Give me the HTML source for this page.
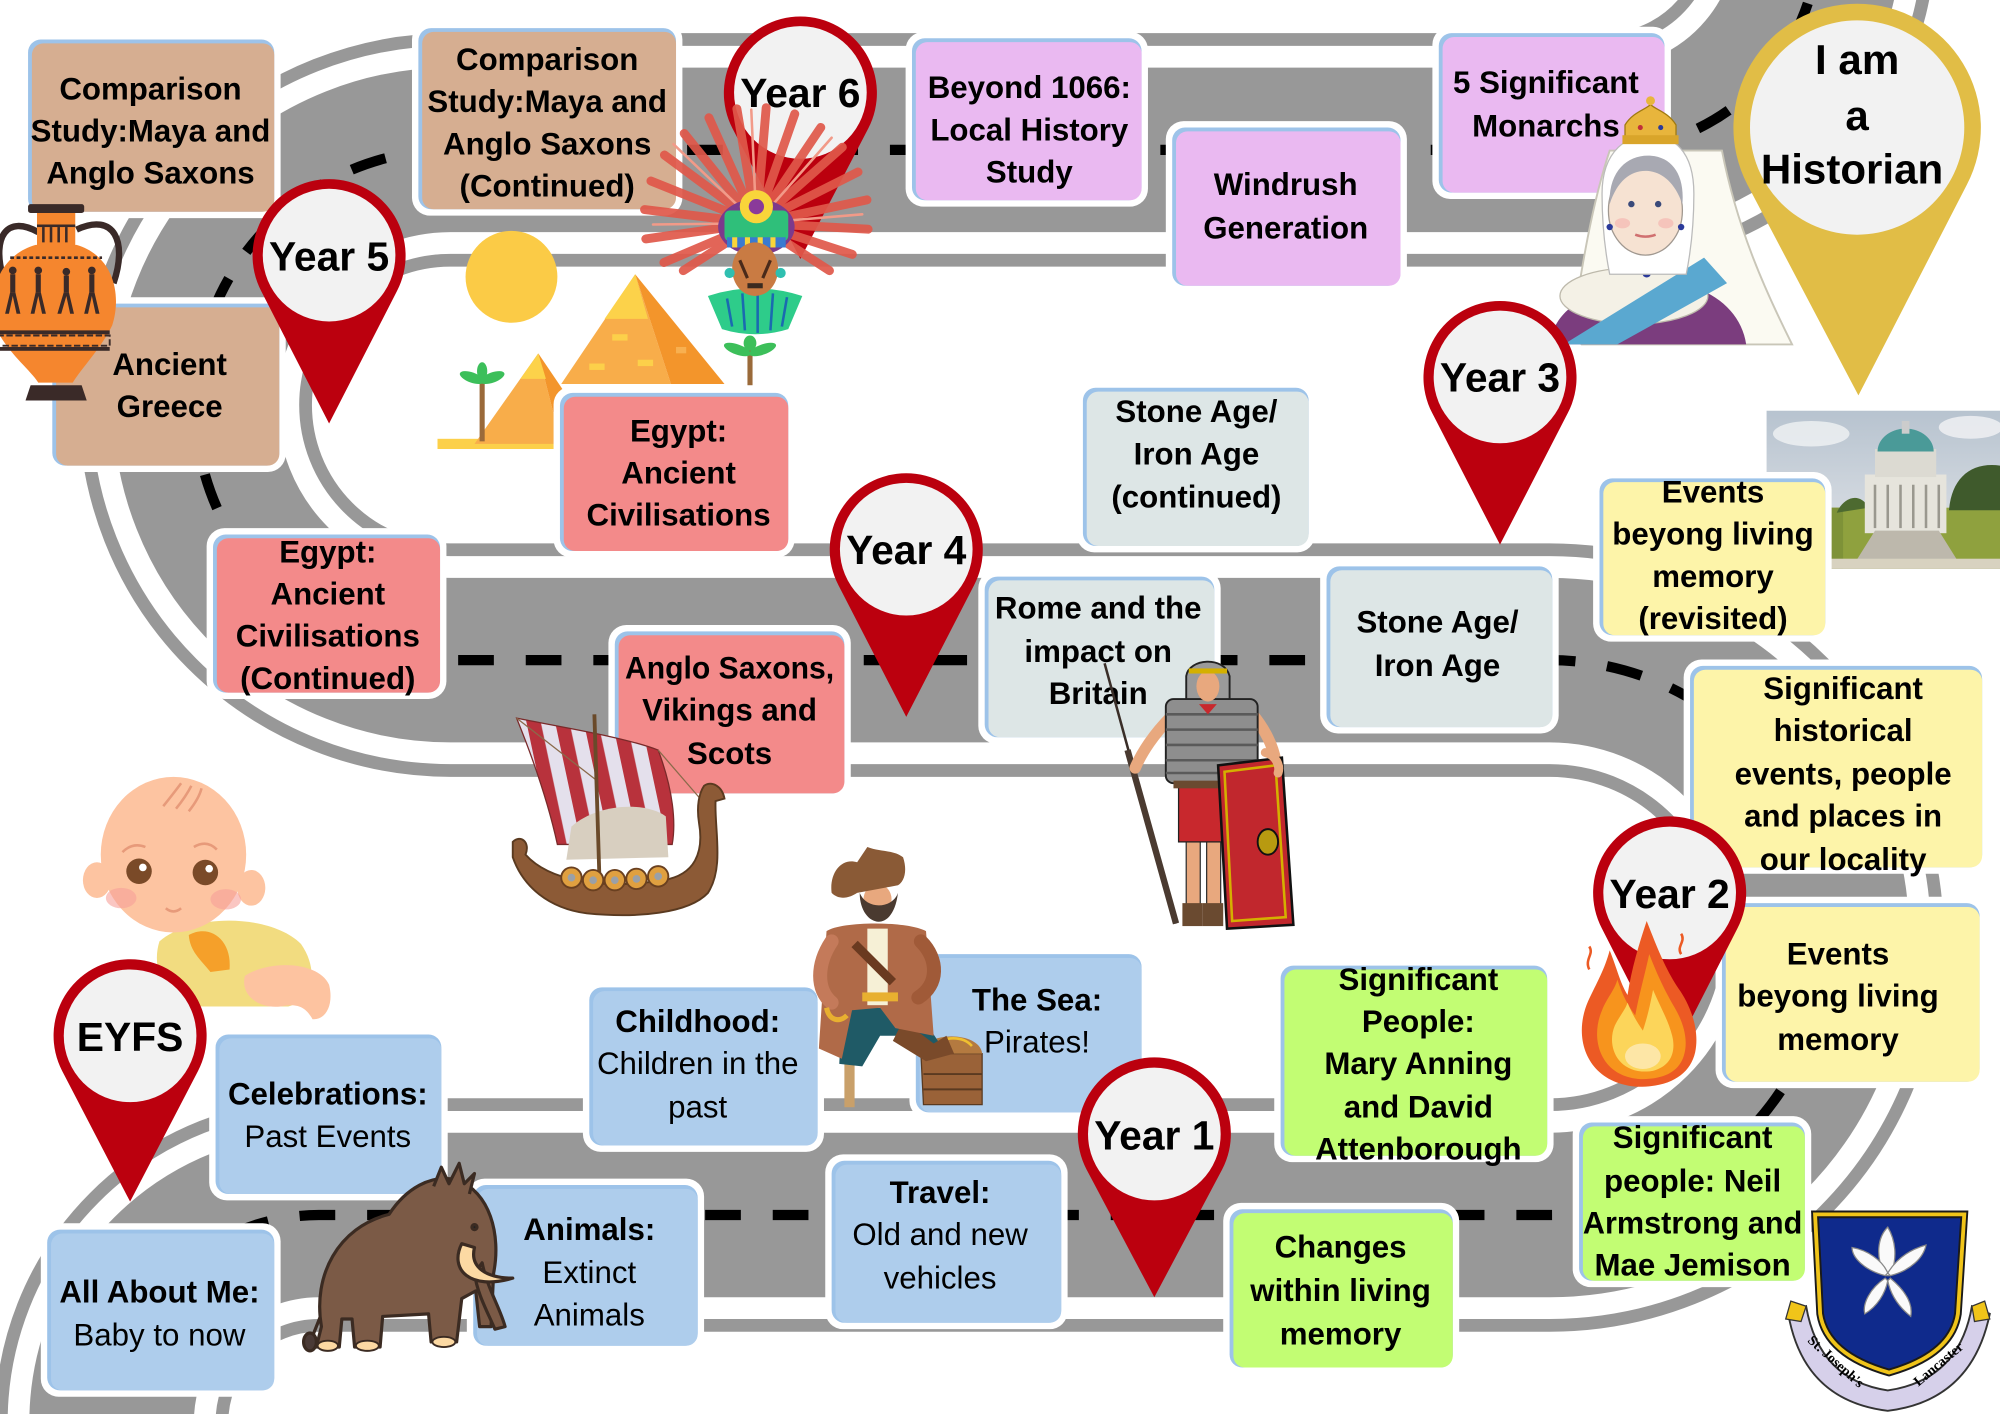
<!DOCTYPE html>
<html>
<head>
<meta charset="utf-8">
<style>
html,body{margin:0;padding:0;background:#fff;width:2000px;height:1414px;overflow:hidden}
svg{display:block}
text{font-family:"Liberation Sans",sans-serif;font-weight:bold;font-size:24.5px;text-anchor:middle;fill:#000}
text.r{font-weight:normal}
text.p{font-size:32px}
text.h{font-size:33px}
text.c{font-family:"Liberation Serif",serif;font-size:11px;font-weight:bold}
</style>
</head>
<body>
<svg width="2000" height="1414" viewBox="0 0 1568 1108.5" preserveAspectRatio="none" xmlns="http://www.w3.org/2000/svg">
<defs>
<pattern id="st" width="22" height="22" patternUnits="userSpaceOnUse" patternTransform="rotate(-12)">
<rect width="22" height="22" fill="#e4e0ec"/><rect width="11" height="22" fill="#b8323c"/>
</pattern>
<linearGradient id="sky" x1="0" y1="0" x2="0" y2="1">
<stop offset="0" stop-color="#b7c3cf"/><stop offset="1" stop-color="#e4e6ea"/>
</linearGradient>
</defs>

<!-- ROAD -->
<g fill="none">
<path d="M87.5 1140 L87.5 1115 A162.5 162.5 0 0 1 250 952.5 L1215 952.5 A217.5 217.5 0 0 0 1215 517.5 L353 517.5 A200 200 0 0 1 353 117.5 L1258 117.5 A168 168 0 0 0 1423.4 -79.7" stroke="#989898" stroke-width="183"/>
<path d="M87.5 1140 L87.5 1115 A162.5 162.5 0 0 1 250 952.5 L1215 952.5 A217.5 217.5 0 0 0 1215 517.5 L353 517.5 A200 200 0 0 1 353 117.5 L1258 117.5 A168 168 0 0 0 1423.4 -79.7" stroke="#ffffff" stroke-width="163"/>
<path d="M87.5 1140 L87.5 1115 A162.5 162.5 0 0 1 250 952.5 L1215 952.5 A217.5 217.5 0 0 0 1215 517.5 L353 517.5 A200 200 0 0 1 353 117.5 L1258 117.5 A168 168 0 0 0 1423.4 -79.7" stroke="#989898" stroke-width="129"/>
<path d="M87.5 1140 L87.5 1115 A162.5 162.5 0 0 1 250 952.5 L1215 952.5 A217.5 217.5 0 0 0 1215 517.5 L353 517.5 A200 200 0 0 1 353 117.5 L1258 117.5 A168 168 0 0 0 1423.4 -79.7" stroke="#000" stroke-width="8" stroke-dasharray="28 25"/>
</g>

<!-- Ashton memorial photo -->
<g>
<rect x="1385" y="322" width="183" height="124" fill="url(#sky)"/>
<ellipse cx="1420" cy="340" rx="30" ry="10" fill="#f0f2f4" opacity=".8"/>
<ellipse cx="1545" cy="335" rx="25" ry="9" fill="#f2f3f5" opacity=".8"/>
<rect x="1385" y="398" width="183" height="48" fill="#8fa13e"/>
<rect x="1385" y="398" width="60" height="48" fill="#7e9238"/>
<path d="M1528 400 C 1530 375, 1545 362, 1568 365 L1568 400 Z" fill="#3f5a2c"/>
<path d="M1440 402 C 1445 390, 1458 385, 1465 398 Z" fill="#4d6a30"/>
<rect x="1462" y="372" width="64" height="46" fill="#e6e4dc"/>
<rect x="1470" y="352" width="48" height="22" fill="#dcdad2"/>
<path d="M1472 354 A22 18 0 0 1 1516 354 Z" fill="#4a9a98"/>
<rect x="1491" y="330" width="6" height="10" fill="#ccc"/>
<g stroke="#9a988f" stroke-width="2"><line x1="1470" y1="380" x2="1470" y2="414"/><line x1="1480" y1="380" x2="1480" y2="414"/><line x1="1490" y1="380" x2="1490" y2="414"/><line x1="1500" y1="380" x2="1500" y2="414"/><line x1="1510" y1="380" x2="1510" y2="414"/><line x1="1520" y1="380" x2="1520" y2="414"/></g>
<path d="M1455 440 L1470 416 L1520 416 L1535 440 Z" fill="#bdb8ac"/>
<rect x="1385" y="438" width="183" height="8" fill="#d8d2c0"/>
</g>

<!-- Sun & pyramids -->
<circle cx="401" cy="217" r="36" fill="#fbcb46"/>
<g>
<rect x="343" y="344" width="92" height="8" fill="#fcd04a"/>
<polygon points="422,277 372,348 440,348" fill="#f8ad4a"/>
<polygon points="422,277 440,348 470,348" fill="#f3952b"/>
<polygon points="422,277 408,297 428,297" fill="#fcd24a"/>
<polygon points="498,215 440,301 526,301" fill="#f8ad4a"/>
<polygon points="498,215 526,301 568,301" fill="#f3952b"/>
<polygon points="498,215 474,250 508,250" fill="#fcd24a"/>
<rect x="480" y="262" width="12" height="5" fill="#fcd04a"/>
<rect x="462" y="285" width="12" height="5" fill="#fcd04a"/>
<rect x="500" y="282" width="12" height="5" fill="#fcd04a"/>
<rect x="530" y="272" width="8" height="5" fill="#f8b050"/>
<rect x="376" y="298" width="4" height="48" fill="#9a6a3a"/>
<g fill="#3cbf5a"><ellipse cx="370" cy="296" rx="10" ry="4" transform="rotate(20 370 296)"/><ellipse cx="386" cy="296" rx="10" ry="4" transform="rotate(-20 386 296)"/><ellipse cx="378" cy="291" rx="4" ry="7"/></g>
<rect x="586" y="274" width="4" height="28" fill="#9a6a3a"/>
<g fill="#3cbf5a"><ellipse cx="578" cy="274" rx="11" ry="4" transform="rotate(20 578 274)"/><ellipse cx="598" cy="274" rx="11" ry="4" transform="rotate(-20 598 274)"/><ellipse cx="588" cy="269" rx="5" ry="6"/></g>
</g>

<!-- BOXES -->
<g>
<rect x="17" y="26" width="203" height="145" rx="14" fill="#fff"/><rect x="22" y="31" width="193" height="135" rx="10" fill="#9dc3e9"/><rect x="25" y="34" width="190" height="132" rx="9" fill="#d6ae91"/>
<rect x="323" y="17" width="212" height="152" rx="14" fill="#fff"/><rect x="328" y="22" width="202" height="142" rx="10" fill="#9dc3e9"/><rect x="331" y="25" width="199" height="139" rx="9" fill="#d6ae91"/>
<rect x="36" y="233" width="188" height="137" rx="14" fill="#fff"/><rect x="41" y="238" width="178" height="127" rx="10" fill="#9dc3e9"/><rect x="44" y="241" width="175" height="124" rx="9" fill="#d6ae91"/>
<rect x="434" y="303" width="189" height="134" rx="14" fill="#fff"/><rect x="439" y="308" width="179" height="124" rx="10" fill="#9dc3e9"/><rect x="442" y="311" width="176" height="121" rx="9" fill="#f38a8a"/>
<rect x="162" y="414" width="188" height="134" rx="14" fill="#fff"/><rect x="167" y="419" width="178" height="124" rx="10" fill="#9dc3e9"/><rect x="170" y="422" width="175" height="121" rx="9" fill="#f38a8a"/>
<rect x="477" y="490" width="190" height="137" rx="14" fill="#fff"/><rect x="482" y="495" width="180" height="127" rx="10" fill="#9dc3e9"/><rect x="485" y="498" width="177" height="124" rx="9" fill="#f38a8a"/>
<rect x="710" y="25" width="190" height="137" rx="14" fill="#fff"/><rect x="715" y="30" width="180" height="127" rx="10" fill="#9dc3e9"/><rect x="718" y="33" width="177" height="124" rx="9" fill="#eab9f1"/>
<rect x="914" y="95" width="189" height="134" rx="14" fill="#fff"/><rect x="919" y="100" width="179" height="124" rx="10" fill="#9dc3e9"/><rect x="922" y="103" width="176" height="121" rx="9" fill="#eab9f1"/>
<rect x="1123" y="21" width="187" height="135" rx="14" fill="#fff"/><rect x="1128" y="26" width="177" height="125" rx="10" fill="#9dc3e9"/><rect x="1131" y="29" width="174" height="122" rx="9" fill="#eab9f1"/>
<rect x="844" y="299" width="187" height="134" rx="14" fill="#fff"/><rect x="849" y="304" width="177" height="124" rx="10" fill="#9dc3e9"/><rect x="852" y="307" width="174" height="121" rx="9" fill="#dde6e6"/>
<rect x="767" y="447" width="190" height="136" rx="14" fill="#fff"/><rect x="772" y="452" width="180" height="126" rx="10" fill="#9dc3e9"/><rect x="775" y="455" width="177" height="123" rx="9" fill="#dde6e6"/>
<rect x="1035" y="439" width="187" height="136" rx="14" fill="#fff"/><rect x="1040" y="444" width="177" height="126" rx="10" fill="#9dc3e9"/><rect x="1043" y="447" width="174" height="123" rx="9" fill="#dde6e6"/>
<rect x="1249" y="370" width="187" height="133" rx="14" fill="#fff"/><rect x="1254" y="375" width="177" height="123" rx="10" fill="#9dc3e9"/><rect x="1257" y="378" width="174" height="120" rx="9" fill="#fdf4a9"/>
<rect x="1320" y="517" width="239" height="168" rx="14" fill="#fff"/><rect x="1325" y="522" width="229" height="158" rx="10" fill="#9dc3e9"/><rect x="1328" y="525" width="226" height="155" rx="9" fill="#fdf4a9"/>
<rect x="1345" y="703" width="212" height="150" rx="14" fill="#fff"/><rect x="1350" y="708" width="202" height="140" rx="10" fill="#9dc3e9"/><rect x="1353" y="711" width="199" height="137" rx="9" fill="#fdf4a9"/>
<rect x="999" y="752" width="219" height="159" rx="14" fill="#fff"/><rect x="1004" y="757" width="209" height="149" rx="10" fill="#9dc3e9"/><rect x="1007" y="760" width="206" height="146" rx="9" fill="#c2fd73"/>
<rect x="1233" y="875" width="187" height="134" rx="14" fill="#fff"/><rect x="1238" y="880" width="177" height="124" rx="10" fill="#9dc3e9"/><rect x="1241" y="883" width="174" height="121" rx="9" fill="#c2fd73"/>
<rect x="959" y="943" width="185" height="134" rx="14" fill="#fff"/><rect x="964" y="948" width="175" height="124" rx="10" fill="#9dc3e9"/><rect x="967" y="951" width="172" height="121" rx="9" fill="#c2fd73"/>
<rect x="457" y="769" width="189" height="134" rx="14" fill="#fff"/><rect x="462" y="774" width="179" height="124" rx="10" fill="#9dc3e9"/><rect x="465" y="777" width="176" height="121" rx="9" fill="#aecdec"/>
<rect x="713" y="743" width="187" height="134" rx="14" fill="#fff"/><rect x="718" y="748" width="177" height="124" rx="10" fill="#9dc3e9"/><rect x="721" y="751" width="174" height="121" rx="9" fill="#aecdec"/>
<rect x="164" y="806" width="187" height="135" rx="14" fill="#fff"/><rect x="169" y="811" width="177" height="125" rx="10" fill="#9dc3e9"/><rect x="172" y="814" width="174" height="122" rx="9" fill="#aecdec"/>
<rect x="366" y="924" width="186" height="136" rx="14" fill="#fff"/><rect x="371" y="929" width="176" height="126" rx="10" fill="#9dc3e9"/><rect x="374" y="932" width="173" height="123" rx="9" fill="#aecdec"/>
<rect x="647" y="905" width="190" height="137" rx="14" fill="#fff"/><rect x="652" y="910" width="180" height="127" rx="10" fill="#9dc3e9"/><rect x="655" y="913" width="177" height="124" rx="9" fill="#aecdec"/>
<rect x="32" y="959" width="188" height="136" rx="14" fill="#fff"/><rect x="37" y="964" width="178" height="126" rx="10" fill="#9dc3e9"/><rect x="40" y="967" width="175" height="123" rx="9" fill="#aecdec"/>
</g>

<!-- BOX TEXT -->
<g>
<text x="118" y="78">Comparison</text><text x="118" y="111">Study:Maya and</text><text x="118" y="144">Anglo Saxons</text>
<text x="429" y="55">Comparison</text><text x="429" y="88">Study:Maya and</text><text x="429" y="121">Anglo Saxons</text><text x="429" y="154">(Continued)</text>
<text x="133" y="294">Ancient</text><text x="133" y="327">Greece</text>
<text x="532" y="346">Egypt:</text><text x="532" y="379">Ancient</text><text x="532" y="412">Civilisations</text>
<text x="257" y="441">Egypt:</text><text x="257" y="474">Ancient</text><text x="257" y="507">Civilisations</text><text x="257" y="540">(Continued)</text>
<text x="572" y="532" textLength="164" lengthAdjust="spacingAndGlyphs">Anglo Saxons,</text><text x="572" y="565">Vikings and</text><text x="572" y="599">Scots</text>
<text x="807" y="77">Beyond 1066:</text><text x="807" y="110">Local History</text><text x="807" y="143">Study</text>
<text x="1008" y="153">Windrush</text><text x="1008" y="187">Generation</text>
<text x="1212" y="73">5 Significant</text><text x="1212" y="107">Monarchs</text>
<text x="938" y="331">Stone Age/</text><text x="938" y="364">Iron Age</text><text x="938" y="398">(continued)</text>
<text x="861" y="485">Rome and the</text><text x="861" y="519">impact on</text><text x="861" y="552">Britain</text>
<text x="1127" y="496">Stone Age/</text><text x="1127" y="530">Iron Age</text>
<text x="1343" y="394">Events</text><text x="1343" y="427">beyong living</text><text x="1343" y="460">memory</text><text x="1343" y="493">(revisited)</text>
<text x="1445" y="548">Significant</text><text x="1445" y="581">historical</text><text x="1445" y="615">events, people</text><text x="1445" y="648">and places in</text><text x="1445" y="682">our locality</text>
<text x="1441" y="756">Events</text><text x="1441" y="789">beyong living</text><text x="1441" y="823">memory</text>
<text x="1112" y="776">Significant</text><text x="1112" y="809">People:</text><text x="1112" y="842">Mary Anning</text><text x="1112" y="876">and David</text><text x="1112" y="909">Attenborough</text>
<text x="1327" y="900">Significant</text><text x="1327" y="934">people: Neil</text><text x="1327" y="967" textLength="172" lengthAdjust="spacingAndGlyphs">Armstrong and</text><text x="1327" y="1000">Mae Jemison</text>
<text x="1051" y="986">Changes</text><text x="1051" y="1020">within living</text><text x="1051" y="1054">memory</text>
<text x="547" y="809">Childhood:</text><text class="r" x="547" y="842">Children in the</text><text class="r" x="547" y="876">past</text>
<text x="813" y="792">The Sea:</text><text class="r" x="813" y="825">Pirates!</text>
<text x="257" y="866">Celebrations:</text><text class="r" x="257" y="899">Past Events</text>
<text x="462" y="972">Animals:</text><text class="r" x="462" y="1006">Extinct</text><text class="r" x="462" y="1039">Animals</text>
<text x="737" y="943">Travel:</text><text class="r" x="737" y="976">Old and new</text><text class="r" x="737" y="1010">vehicles</text>
<text x="125" y="1021">All About Me:</text><text class="r" x="125" y="1055">Baby to now</text>
</g>

<!-- BABY -->
<g>
<path d="M125 738 C 150 716, 212 716, 236 740 C 250 760, 246 784, 226 789 L 150 789 C 130 784, 118 760, 125 738 Z" fill="#f2dc80"/>
<path d="M192 765 C 212 752, 250 754, 258 772 C 262 788, 255 800, 245 799 C 240 790, 234 786, 220 789 C 204 791, 188 781, 192 765 Z" fill="#fdc3a0"/>
<path d="M148 733 C 164 724, 182 736, 180 760 L 165 762 C 157 752, 149 746, 148 733 Z" fill="#f5a02a"/>
<ellipse cx="76" cy="690" rx="11" ry="14" fill="#fdc4a1"/>
<ellipse cx="197" cy="696" rx="11" ry="14" fill="#fdc4a1"/>
<ellipse cx="136" cy="670" rx="57" ry="61" fill="#fdc4a1"/>
<g fill="none" stroke="#e79a7a" stroke-width="2"><path d="M128 632 Q 136 622 142 614"/><path d="M138 634 Q 146 624 150 616"/><path d="M148 636 Q 156 626 158 618"/><path d="M96 668 Q 104 660 114 664"/><path d="M152 664 Q 162 658 170 666"/><path d="M130 712 Q 136 717 142 712"/></g>
<circle cx="109" cy="683" r="10" fill="#7a4a28"/><circle cx="161" cy="684" r="10" fill="#7a4a28"/>
<circle cx="112" cy="680" r="3" fill="#fff"/><circle cx="164" cy="681" r="3" fill="#fff"/>
<ellipse cx="95" cy="704" rx="12" ry="8" fill="#f7a09a" opacity=".6"/><ellipse cx="177" cy="705" rx="12" ry="8" fill="#f7a09a" opacity=".6"/>
</g>

<!-- QUEEN VICTORIA -->
<g>
<path d="M1262 118 C 1248 160, 1240 210, 1232 262 L1240 270 L1405 270 C 1385 230, 1362 180, 1350 118 Z" fill="#fbfaf2" stroke="#c9c6b8" stroke-width="1.5"/>
<path d="M1215 270 C 1218 245, 1240 230, 1272 226 L1330 226 C 1352 234, 1366 250, 1369 270 Z" fill="#7b3d7e"/>
<ellipse cx="1281" cy="232" rx="58" ry="22" fill="#f4f1e6" stroke="#bdb9ab"/>
<path d="M1336 202 L1354 222 L1268 270 L1226 270 Z" fill="#5aa8d0"/>
<rect x="1276" y="188" width="28" height="26" fill="#f3dcc9"/>
<path d="M1270 196 Q 1290 224 1312 196" fill="none" stroke="#e0a830" stroke-width="3"/>
<circle cx="1291" cy="214" r="3.5" fill="#2b3a9a"/>
<path d="M1256 152 C 1256 116, 1278 106, 1292 106 C 1312 106, 1328 118, 1328 152 C 1328 180, 1325 200, 1322 215 L1262 215 C 1258 195, 1256 175, 1256 152 Z" fill="#fff" stroke="#bbb"/>
<ellipse cx="1290" cy="165" rx="29" ry="35" fill="#f6e2d2" stroke="#a09890"/>
<path d="M1262 160 C 1261 135, 1275 122, 1292 122 C 1310 122, 1321 136, 1319 160 C 1312 140, 1300 134, 1290 134 C 1278 134, 1268 142, 1262 160 Z" fill="#a8a9b2"/>
<circle cx="1279" cy="160" r="2.5" fill="#3a4a7a"/><circle cx="1300" cy="160" r="2.5" fill="#3a4a7a"/>
<path d="M1282 184 Q 1290 187 1298 184" stroke="#d07070" stroke-width="2" fill="none"/>
<ellipse cx="1272" cy="175" rx="6" ry="4" fill="#f5b8b0" opacity=".7"/><ellipse cx="1306" cy="175" rx="6" ry="4" fill="#f5b8b0" opacity=".7"/>
<circle cx="1262" cy="178" r="2.5" fill="#2b3a9a"/><circle cx="1318" cy="178" r="2.5" fill="#2b3a9a"/>
<path d="M1274 112 L1274 98 C 1280 88, 1290 86, 1294 82 C 1298 86, 1308 88, 1314 98 L1314 112 Z" fill="#e8b53c" stroke="#a07a10"/>
<rect x="1272" y="106" width="44" height="7" fill="#d9a52a"/>
<circle cx="1294" cy="79" r="3.5" fill="#e8b53c"/>
<circle cx="1286" cy="100" r="2" fill="#c0303a"/><circle cx="1302" cy="100" r="2" fill="#2b3a9a"/>
</g>

<!-- PINS -->
<g>
<path d="M574.3 100.7 A60 60 0 1 1 680.7 100.7 L627.5 203 Z" fill="#bb000e"/><circle cx="627.5" cy="72.5" r="52" fill="#f2f2f2"/><text class="p" x="627.5" y="84">Year 6</text>
<path d="M204.8 228.2 A60 60 0 1 1 311.2 228.2 L258 332 Z" fill="#bb000e"/><circle cx="258" cy="200" r="52" fill="#f2f2f2"/><text class="p" x="258" y="212">Year 5</text>
<path d="M657.3 458.7 A60 60 0 1 1 763.7 458.7 L710.5 562 Z" fill="#bb000e"/><circle cx="710.5" cy="430.5" r="52" fill="#f2f2f2"/><text class="p" x="710.5" y="442">Year 4</text>
<path d="M1122.8 323.7 A60 60 0 1 1 1229.2 323.7 L1176 427 Z" fill="#bb000e"/><circle cx="1176" cy="295.5" r="52" fill="#f2f2f2"/><text class="p" x="1176" y="307">Year 3</text>
<path d="M1255.8 727.7 A60 60 0 1 1 1362.2 727.7 L1309 832 Z" fill="#bb000e"/><circle cx="1309" cy="700" r="52" fill="#f2f2f2"/><text class="p" x="1309" y="712">Year 2</text>
<path d="M851.8 916.7 A60 60 0 1 1 958.2 916.7 L905 1017 Z" fill="#bb000e"/><circle cx="905" cy="889" r="52" fill="#f2f2f2"/><text class="p" x="905" y="901">Year 1</text>
<path d="M48.8 839.7 A60 60 0 1 1 155.2 839.7 L102 942 Z" fill="#bb000e"/><circle cx="102" cy="812" r="52" fill="#f2f2f2"/><text class="p" x="102" y="824">EYFS</text>
<path d="M1370 144.8 A97 97 0 1 1 1542 144.8 L1457 310 Z" fill="#e1bd46"/><circle cx="1456" cy="100" r="84" fill="#f2f2f2"/>
<text class="h" x="1456" y="58">I am</text><text class="h" x="1456" y="102">a</text><text class="h" x="1452" y="144">Historian</text>
</g>

<!-- GREEK VASE -->
<g>
<path d="M30 182 C 5 168, -6 186, 2 216" stroke="#3a2a28" stroke-width="5" fill="none"/>
<path d="M60 180 C 90 166, 100 190, 89 222" stroke="#3a2a28" stroke-width="5" fill="none"/>
<rect x="29" y="166" width="30" height="28" fill="#f5862e"/>
<g fill="#3a2a28"><rect x="29" y="176" width="30" height="2"/><rect x="33" y="178" width="2" height="12"/><rect x="39" y="178" width="2" height="12"/><rect x="45" y="178" width="2" height="12"/><rect x="51" y="178" width="2" height="12"/></g>
<path d="M28 192 C 0 200, -10 228, -4 255 C 4 275, 24 290, 30 300 L57 300 C 63 290, 80 272, 88 255 C 96 230, 88 200, 60 192 Z" fill="#f5862e"/>
<rect x="22" y="160" width="44" height="7" rx="2" fill="#3a2a28"/>
<path d="M8 202 L80 202" stroke="#3a2a28" stroke-width="2" stroke-dasharray="3 2"/>
<g fill="#3a2a28">
<circle cx="10" cy="212" r="3"/><rect x="8" y="215" width="4" height="14"/><path d="M8 229 L4 246 L7 246 L10 232 L13 246 L16 246 L12 229 Z"/>
<circle cx="30" cy="212" r="3"/><rect x="28" y="215" width="4" height="14"/><path d="M28 229 L24 246 L27 246 L30 232 L33 246 L36 246 L32 229 Z"/>
<circle cx="52" cy="213" r="3"/><rect x="50" y="216" width="4" height="13"/><path d="M50 229 L45 246 L48 246 L52 232 L55 246 L58 246 L54 229 Z"/>
<circle cx="72" cy="212" r="3"/><rect x="70" y="215" width="4" height="14"/><path d="M70 229 L66 246 L69 246 L72 232 L75 246 L78 246 L74 229 Z"/>
<rect x="-2" y="259" width="88" height="3"/><rect x="-2" y="272" width="88" height="3"/>
</g>
<rect x="-2" y="263" width="88" height="8" fill="none" stroke="#3a2a28" stroke-width="1.5" stroke-dasharray="5 2"/>
<path d="M24 302 L64 302 L68 314 L20 314 Z" fill="#3a2a28"/>
</g>

<!-- MAYA HEAD -->
<g stroke-linecap="round">
<g stroke="#e0584a" stroke-width="7" opacity=".92">
<line x1="593" y1="175" x2="535.7" y2="212.2"/><line x1="593" y1="175" x2="520.5" y2="205.8"/><line x1="593" y1="175" x2="506.3" y2="187.3"/><line x1="593" y1="175" x2="505.3" y2="164.3"/><line x1="593" y1="175" x2="510.3" y2="141.9"/><line x1="593" y1="175" x2="520.9" y2="121.5"/><line x1="593" y1="175" x2="536.4" y2="104.6"/><line x1="593" y1="175" x2="555.8" y2="92.3"/><line x1="593" y1="175" x2="577.7" y2="85.3"/><line x1="593" y1="175" x2="600.7" y2="84.4"/><line x1="593" y1="175" x2="623.1" y2="89.3"/><line x1="593" y1="175" x2="643.5" y2="99.9"/><line x1="593" y1="175" x2="660.4" y2="115.4"/><line x1="593" y1="175" x2="672.7" y2="134.8"/><line x1="593" y1="175" x2="679.7" y2="156.7"/><line x1="593" y1="175" x2="680.6" y2="179.7"/><line x1="593" y1="175" x2="668.2" y2="199.4"/><line x1="593" y1="175" x2="650.3" y2="212.2"/>
</g>
<g stroke="#f29a88" stroke-width="2"><line x1="593" y1="175" x2="512" y2="176"/><line x1="593" y1="175" x2="528" y2="113"/><line x1="593" y1="175" x2="589" y2="86"/><line x1="593" y1="175" x2="652" y2="108"/><line x1="593" y1="175" x2="676" y2="168"/></g>
</g>
<g>
<ellipse cx="593" cy="178" rx="30" ry="22" fill="#7c3a8c"/>
<rect x="568" y="165" width="50" height="24" rx="4" fill="#2fbf7a"/>
<circle cx="593" cy="162" r="13" fill="#f9d53a"/><circle cx="593" cy="162" r="6" fill="#8a3a9a"/>
<rect x="570" y="186" width="46" height="8" fill="#3a7ad0"/>
<g fill="#f9d53a"><rect x="574" y="186" width="4" height="8"/><rect x="584" y="186" width="4" height="8"/><rect x="594" y="186" width="4" height="8"/><rect x="604" y="186" width="4" height="8"/></g>
<path d="M555 232 Q 592 220 629 232 L618 258 Q 592 266 566 258 Z" fill="#2ecc8a"/>
<g stroke="#1a6ab0" stroke-width="2"><line x1="570" y1="234" x2="574" y2="256"/><line x1="582" y1="230" x2="584" y2="259"/><line x1="594" y1="229" x2="594" y2="261"/><line x1="606" y1="230" x2="604" y2="259"/><line x1="617" y1="233" x2="613" y2="256"/></g>
<ellipse cx="592" cy="211" rx="18" ry="21" fill="#c97b43"/>
<path d="M580 204 L586 218 M604 204 L598 218" stroke="#4a2a1a" stroke-width="2.5"/>
<rect x="586" y="222" width="12" height="4" fill="#3a2a20"/>
<circle cx="572" cy="214" r="4" fill="#2fbfb0"/><circle cx="612" cy="214" r="4" fill="#2fbfb0"/>
</g>

<!-- VIKING SHIP -->
<g>
<path d="M405 563 C 440 570, 490 578, 516 588 C 528 620, 530 645, 527 662 L437 662 C 430 630, 418 595, 405 563 Z" fill="url(#st)" stroke="#7a2a2a" stroke-width="1"/>
<line x1="405" y1="563" x2="468" y2="612" stroke="#8a6a4a" stroke-width="1"/>
<line x1="516" y1="588" x2="548" y2="625" stroke="#8a6a4a" stroke-width="1"/>
<path d="M448 648 C 468 630, 506 628, 522 640 L524 672 L444 674 Z" fill="#d8cfc0"/>
<line x1="466" y1="560" x2="470" y2="690" stroke="#6a4a2a" stroke-width="3"/>
<path d="M402 660 C 408 654, 416 660, 412 670 C 430 690, 470 698, 520 690 C 545 686, 552 668, 548 645 C 546 632, 548 622, 552 616 C 558 612, 566 616, 568 626 L561 628 C 560 650, 568 680, 555 700 C 540 716, 500 720, 460 716 C 430 712, 410 695, 402 672 Z" fill="#8c5a36" stroke="#5a3a20" stroke-width="1.5"/>
<g fill="#e0a040" stroke="#6a4020" stroke-width="1.5"><circle cx="448" cy="688" r="8"/><circle cx="465" cy="690" r="8"/><circle cx="482" cy="690" r="8"/><circle cx="499" cy="689" r="8"/><circle cx="516" cy="687" r="8"/></g>
<g fill="#9aa0a8"><circle cx="448" cy="688" r="3"/><circle cx="465" cy="690" r="3"/><circle cx="482" cy="690" r="3"/><circle cx="499" cy="689" r="3"/><circle cx="516" cy="687" r="3"/></g>
</g>

<!-- ROMAN SOLDIER -->
<g>
<line x1="866" y1="520" x2="922" y2="724" stroke="#3a2e28" stroke-width="2"/>
<line x1="884" y1="588" x2="922" y2="724" stroke="#4a3a30" stroke-width="5"/>
<path d="M918 562 C 905 575, 895 590, 890 602" stroke="#e8a87e" stroke-width="9" fill="none" stroke-linecap="round"/>
<path d="M982 560 C 992 572, 998 585, 1000 596" stroke="#e8a87e" stroke-width="9" fill="none" stroke-linecap="round"/>
<rect x="930" y="655" width="11" height="58" fill="#e8a87e" stroke="#333" stroke-width="1"/>
<rect x="946" y="655" width="11" height="58" fill="#e8a87e" stroke="#333" stroke-width="1"/>
<rect x="927" y="708" width="16" height="18" fill="#6a4a30"/><rect x="943" y="708" width="16" height="18" fill="#6a4a30"/>
<rect x="924" y="612" width="36" height="48" fill="#c8282d" stroke="#222" stroke-width="1"/>
<rect x="914" y="548" width="72" height="66" rx="6" fill="#8e8e8e" stroke="#222" stroke-width="1.5"/>
<g stroke="#5a5a5a" stroke-width="2"><line x1="914" y1="560" x2="986" y2="560"/><line x1="914" y1="572" x2="986" y2="572"/><line x1="914" y1="584" x2="986" y2="584"/><line x1="914" y1="596" x2="986" y2="596"/><line x1="914" y1="606" x2="986" y2="606"/></g>
<rect x="920" y="612" width="44" height="6" fill="#6a4a30"/>
<path d="M930 548 L930 530 C 932 516, 960 514, 964 530 L964 548 Z" fill="#9a9a9a" stroke="#222" stroke-width="1.5"/>
<ellipse cx="947" cy="538" rx="9" ry="12" fill="#e8a87e"/>
<rect x="932" y="524" width="30" height="4" fill="#d4b000"/>
<path d="M940 552 L954 552 L947 560 Z" fill="#c8282d"/>
<polygon points="955,600 1005,594 1014,725 962,728" fill="#c1272d" stroke="#111" stroke-width="2"/>
<polygon points="960,605 1000,600 1008,719 966,722" fill="none" stroke="#d4b000" stroke-width="2"/>
<ellipse cx="994" cy="660" rx="8" ry="10" fill="#b89a10" stroke="#111" stroke-width="1.5"/>
<path d="M992 590 C 1000 592, 1004 600, 1002 606" stroke="#e8a87e" stroke-width="7" fill="none" stroke-linecap="round"/>
</g>

<!-- PIRATE -->
<g>
<path d="M722 826 L724 866 L770 866 L770 826 Z" fill="#9a6238" stroke="#5a3a20" stroke-width="1"/>
<path d="M722 826 C 724 808, 768 808, 770 826 Z" fill="#b47a40"/>
<path d="M732 820 C 740 812, 755 812, 762 820" stroke="#f0c030" stroke-width="2" fill="none"/>
<g stroke="#5a3a20" stroke-width="1.5"><line x1="724" y1="842" x2="770" y2="842"/><line x1="724" y1="854" x2="770" y2="854"/></g>
<rect x="662" y="832" width="8" height="36" fill="#c9a06a"/>
<path d="M660 790 L700 790 L730 808 L738 820 L726 826 L704 812 L690 812 L676 836 L658 834 Z" fill="#1f5a66"/>
<path d="M708 800 L732 818 L742 812 L748 826 L726 832 L700 816 Z" fill="#7a4a2a"/>
<path d="M648 730 C 660 722, 712 722, 726 730 L732 812 L702 806 L690 790 L668 792 L660 830 L642 822 Z" fill="#b06a48"/>
<rect x="680" y="728" width="16" height="60" fill="#f6f0d6"/>
<path d="M670 740 L700 770" stroke="#6a3a20" stroke-width="7"/>
<rect x="676" y="778" width="28" height="7" fill="#e8b030"/>
<path d="M652 738 C 640 756, 640 776, 652 786" stroke="#c47a5a" stroke-width="11" fill="none" stroke-linecap="round"/>
<path d="M722 738 C 736 752, 736 772, 720 782" stroke="#a05a38" stroke-width="11" fill="none" stroke-linecap="round"/>
<path d="M648 790 C 650 800, 658 802, 664 796" stroke="#e8b030" stroke-width="4" fill="none"/>
<ellipse cx="688" cy="705" rx="11" ry="12" fill="#e8a87e"/>
<path d="M674 700 C 674 726, 700 734, 704 700 C 700 712, 680 714, 674 700 Z" fill="#4a3a30"/>
<path d="M652 700 C 650 684, 660 672, 672 676 L680 664 C 690 668, 700 666, 708 672 C 712 684, 708 692, 704 694 L672 700 C 666 704, 658 706, 652 700 Z" fill="#8a5a36"/>
</g>

<!-- MAMMOTH -->
<g stroke="#3b2b22" stroke-width="2.5" stroke-linejoin="round">
<path d="M252 1030 L244 1050" fill="none"/>
<ellipse cx="243" cy="1052" rx="5" ry="7" fill="#4a3a36"/>
<path d="M252 1040 C 245 1000, 265 962, 305 952 C 318 932, 338 920, 358 925 C 384 934, 393 968, 387 998 L385 1040 L376 1040 L373 1012 L362 1018 L358 1052 L338 1052 L336 1030 L300 1032 L298 1056 L278 1056 L276 1034 L268 1034 L266 1056 L248 1056 Z" fill="#7b5a46"/>
<path d="M340 930 L346 915 L352 928 L360 912 L364 928 L372 920 L368 936" fill="#7b5a46"/>
<path d="M378 990 C 382 1010, 392 1025, 396 1040 L388 1042 C 382 1028, 374 1014, 372 998 Z" fill="#7b5a46"/>
<path d="M362 975 C 352 995, 368 1012, 402 1002 C 382 1002, 368 994, 372 978 Z" fill="#fcd9a3"/>
<circle cx="372" cy="962" r="2" fill="#222"/>
<g fill="#fcd9a3" stroke-width="1.5"><ellipse cx="288" cy="1055" rx="9" ry="4"/><ellipse cx="348" cy="1052" rx="9" ry="4"/><ellipse cx="257" cy="1055" rx="8" ry="4"/></g>
</g>

<!-- FIRE -->
<g>
<path d="M1285 852 C 1245 850, 1232 815, 1245 785 C 1252 770, 1258 760, 1262 745 C 1268 760, 1270 770, 1276 780 C 1279 760, 1285 740, 1291 722 C 1300 745, 1306 760, 1316 775 C 1324 786, 1333 806, 1329 825 C 1325 842, 1310 852, 1285 852 Z" fill="#ec5a24"/>
<path d="M1286 846 C 1255 844, 1246 815, 1256 792 C 1260 782, 1266 776, 1268 768 C 1272 780, 1276 788, 1282 796 C 1285 780, 1290 762, 1293 748 C 1300 766, 1306 778, 1313 790 C 1320 802, 1324 816, 1320 828 C 1316 840, 1305 846, 1286 846 Z" fill="#f7941d"/>
<path d="M1287 840 C 1266 838, 1260 818, 1266 804 C 1270 796, 1274 792, 1276 786 C 1280 796, 1284 802, 1288 808 C 1292 796, 1294 786, 1296 776 C 1302 790, 1308 800, 1311 812 C 1314 824, 1310 834, 1300 838 C 1296 840, 1292 840, 1287 840 Z" fill="#fcd55a"/>
<ellipse cx="1288" cy="828" rx="14" ry="10" fill="#fde6a6"/>
<path d="M1246 760 C 1242 752, 1250 748, 1246 742" stroke="#ec5a24" stroke-width="2" fill="none"/>
<path d="M1318 748 C 1314 742, 1322 738, 1318 732" stroke="#ec5a24" stroke-width="2" fill="none"/>
</g>

<!-- SCHOOL CREST -->
<g>
<path d="M1402 1030 Q 1414 1098 1480 1106 Q 1546 1098 1560 1030 L1546 1024 Q 1536 1082 1480 1090 Q 1426 1082 1416 1024 Z" fill="#d6d0ea" stroke="#333" stroke-width="1.5"/>
<path d="M1404 1020 L1416 1024 L1412 1036 L1400 1034 Z" fill="#f0c419" stroke="#333"/>
<path d="M1556 1020 L1546 1024 L1548 1036 L1560 1034 Z" fill="#f0c419" stroke="#333"/>
<path d="M1423 952 L1540 952 L1535 1030 Q 1530 1062 1481 1076 Q 1432 1062 1427 1030 Z" fill="#0f2a8c" stroke="#1a1a1a" stroke-width="6"/>
<path d="M1423 952 L1540 952 L1535 1030 Q 1530 1062 1481 1076 Q 1432 1062 1427 1030 Z" fill="none" stroke="#f0c419" stroke-width="3"/>
<g fill="#fafafa" stroke="#888" stroke-width="1">
<path d="M1478 1000 C 1470 985, 1472 970, 1480 962 C 1486 972, 1488 986, 1482 1000 Z"/>
<path d="M1478 1000 C 1462 996, 1452 986, 1452 978 C 1464 980, 1476 988, 1480 998 Z"/>
<path d="M1482 1000 C 1498 996, 1508 986, 1510 976 C 1496 980, 1486 988, 1480 998 Z"/>
<path d="M1478 1002 C 1466 1010, 1460 1022, 1462 1030 C 1472 1024, 1478 1014, 1480 1004 Z"/>
<path d="M1482 1002 C 1494 1012, 1500 1022, 1498 1032 C 1488 1024, 1482 1014, 1480 1004 Z"/>
</g>
<text class="c" x="1437" y="1070" transform="rotate(42 1437 1070)">St. Joseph's</text>
<text class="c" x="1522" y="1072" transform="rotate(-40 1522 1072)">Lancaster</text>
</g>
</svg>
</body>
</html>
